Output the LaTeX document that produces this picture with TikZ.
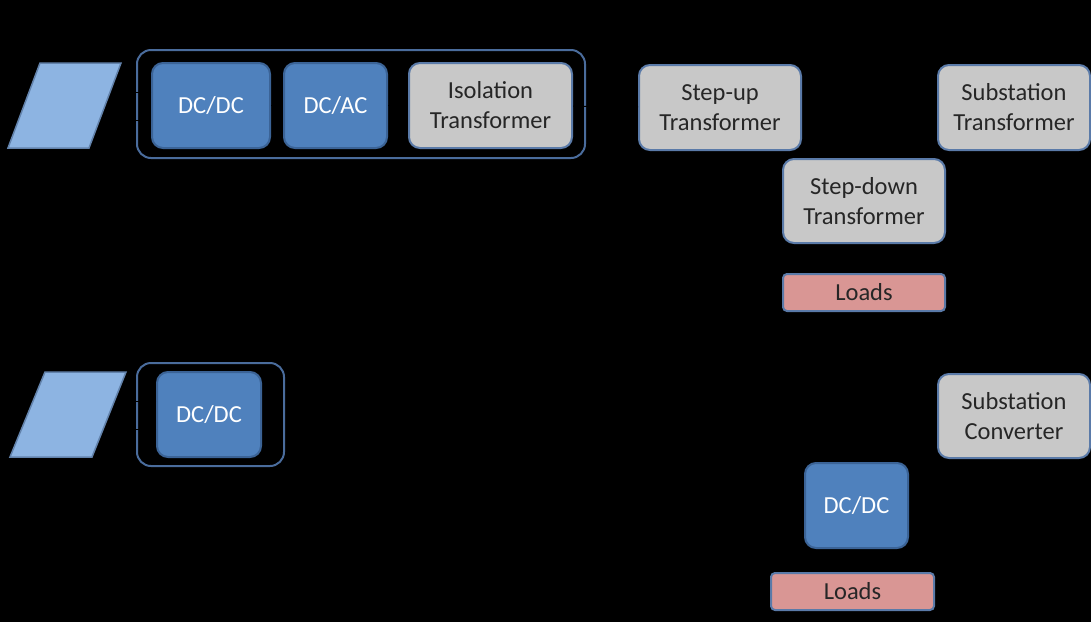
\documentclass[tikz,border=0pt]{standalone}
\usepackage{fontspec}
\setmainfont{Carlito}
\definecolor{bluefill}{HTML}{4F81BD}
\definecolor{blueedge}{HTML}{3B6396}
\definecolor{grayfill}{HTML}{C8C8C8}
\definecolor{grayedge}{HTML}{5A7AA8}
\definecolor{loadfill}{HTML}{D99694}
\definecolor{paraf}{HTML}{8DB4E2}
\definecolor{grpedge}{HTML}{4A6C9C}
\tikzset{
  x=1pt, y=-1pt,
  base/.style={rounded corners=11pt, line width=2pt, inner sep=0pt, align=center,
    font=\fontsize{24.5}{30}\selectfont},
  conv/.style={base, fill=bluefill, draw=blueedge, text=white},
  xfmr/.style={base, fill=grayfill, draw=grayedge, text=black!85},
  load/.style={base, rounded corners=4pt, fill=loadfill, draw=grayedge, text=black!85},
  grp/.style={rounded corners=14pt, line width=2pt, draw=grpedge},
  para/.style={fill=paraf, draw=blueedge!80, line width=1.5pt},
  wire/.style={draw=black, line width=1pt}
}
\begin{document}
\begin{tikzpicture}
\fill[black] (0,0) rectangle (1091,622);
\useasboundingbox (0,0) rectangle (1091,622);
% top row
\draw[grp] (137,50) rectangle (585,158);
\coordinate (p1a) at (40,63); \coordinate (p1b) at (121,63);
\coordinate (p1c) at (89,148); \coordinate (p1d) at (8,148);
\draw[para] (p1a) -- (p1b) -- (p1c) -- (p1d) -- cycle;
\node[conv, minimum width=118pt, minimum height=85pt] (dcdc1) at (211,105.5) {DC/DC};
\node[conv, minimum width=103pt, minimum height=85pt] (dcac1) at (335.5,105.5) {DC/AC};
\node[xfmr, minimum width=163pt, minimum height=85pt] (iso) at (490.5,105.5) {Isolation\\Transformer};
\node[xfmr, minimum width=162pt, minimum height=85pt] (stepup) at (720,107.5) {Step-up\\Transformer};
\node[xfmr, minimum width=152pt, minimum height=85pt] (subx) at (1014,107.5) {Substation\\Transformer};
\node[xfmr, minimum width=162pt, minimum height=84pt] (stepdown) at (864,201) {Step-down\\Transformer};
\node[load, minimum width=162pt, minimum height=37pt] (loads1) at (864,292.5) {Loads};
% bottom row
\draw[grp] (137,363) rectangle (284,466);
\coordinate (p2a) at (45,372); \coordinate (p2b) at (126,372);
\coordinate (p2c) at (92,457); \coordinate (p2d) at (10,457);
\draw[para] (p2a) -- (p2b) -- (p2c) -- (p2d) -- cycle;
\node[conv, minimum width=104pt, minimum height=85pt] (dcdc2) at (209,414.5) {DC/DC};
\node[xfmr, minimum width=152pt, minimum height=84pt] (subc) at (1014,416) {Substation\\Converter};
\node[conv, minimum width=103pt, minimum height=85pt] (dcdc3) at (856.5,505.5) {DC/DC};
\node[load, minimum width=163pt, minimum height=37pt] (loads2) at (852.5,591.5) {Loads};
% connectors (black, as in the reference)
\draw[wire] ([yshift=-15pt]dcdc1.west) -- ++(-16,0);
\draw[wire] ([yshift=13pt]dcdc1.west) -- ++(-16,0);
\draw[wire] (dcdc1) -- (dcac1);
\draw[wire] (dcac1) -- (iso);
\draw[wire] (iso) -- (stepup);
\draw[wire] ([yshift=-15pt]dcdc2.west) -- ++(-20,0);
\draw[wire] ([yshift=13pt]dcdc2.west) -- ++(-20,0);
\end{tikzpicture}
\end{document}
